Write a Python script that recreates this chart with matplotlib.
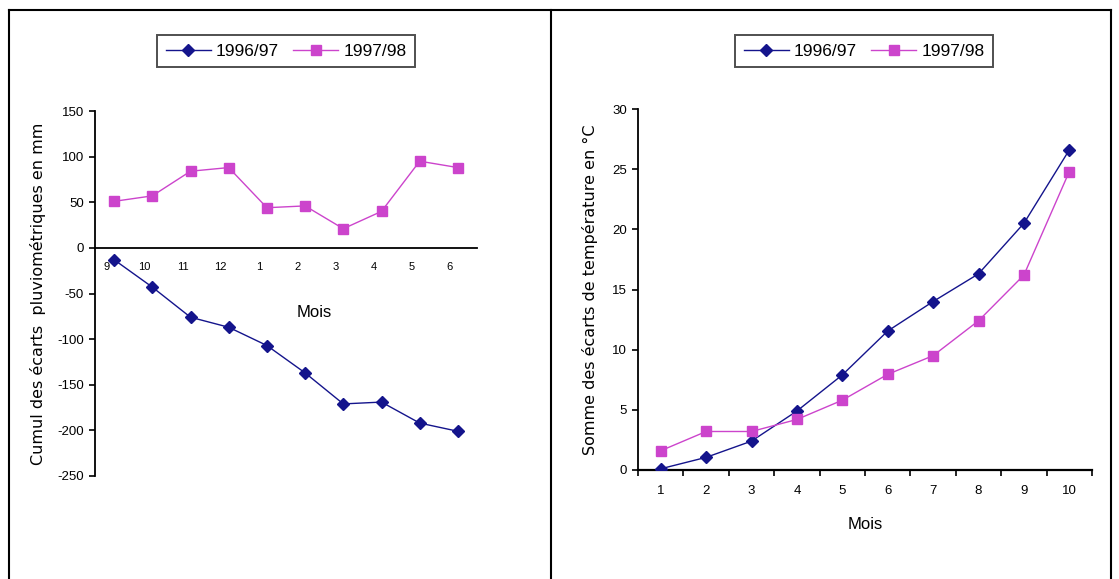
import matplotlib
matplotlib.use("Agg")
import matplotlib.pyplot as plt
import matplotlib.transforms as mtransforms
from matplotlib.lines import Line2D
import numpy as np

plt.rcParams['font.family'] = ['Liberation Sans Narrow', 'Liberation Sans', 'DejaVu Sans']
plt.rcParams['axes.unicode_minus'] = False

# left chart: cumul des ecarts pluviometriques (mm)
mois_pluie = ["9", "10", "11", "12", "1", "2", "3", "4", "5", "6"]
pluie_9697 = [-13, -43, -76, -87, -107, -137, -171, -169, -192, -201]
pluie_9798 = [51, 57, 84, 88, 44, 46, 21, 40, 95, 88]

# right chart: somme des ecarts de temperature (degC)
mois_temp = ["1", "2", "3", "4", "5", "6", "7", "8", "9", "10"]
temp_9697 = [0.1, 1.05, 2.4, 4.9, 7.9, 11.55, 14.0, 16.3, 20.5, 26.6]
temp_9798 = [1.6, 3.2, 3.2, 4.2, 5.8, 7.95, 9.5, 12.4, 16.2, 24.8]

series_names = ["1996/97", "1997/98"]
blue = "#14148c"
pink = "#cc44cc"

W, H = 1119, 579
fig = plt.figure(figsize=(W / 100, H / 100), dpi=100)

def ax_px(x0, y0, x1, y1):
    # pixel box (top-left origin) -> figure axes
    return fig.add_axes([x0 / W, 1 - y1 / H, (x1 - x0) / W, (y1 - y0) / H])

def draw_series(ax, xs, a, b):
    l1, = ax.plot(xs, a, color=blue, lw=1.0, marker="D", ms=6, mfc=blue, mec=blue, zorder=3)
    l2, = ax.plot(xs, b, color=pink, lw=1.0, marker="s", ms=6.5, mfc=pink, mec=pink, zorder=3)
    return l1, l2

ylab_font = dict(fontsize=11.5, family='DejaVu Sans')

# ---------------- left
ax1 = ax_px(95, 111, 477, 476)
xs = np.arange(1, len(mois_pluie) + 1)
h1 = draw_series(ax1, xs, pluie_9697, pluie_9798)
ax1.set_xlim(0.5, len(mois_pluie) + 0.5)
ax1.set_ylim(-250, 150)
ax1.set_yticks(np.arange(-250, 151, 50))
ax1.spines['top'].set_visible(False)
ax1.spines['right'].set_visible(False)
ax1.spines['bottom'].set_position(('data', 0))
ax1.spines['left'].set_linewidth(1.3)
ax1.spines['bottom'].set_linewidth(1.3)
ax1.set_xticks(xs)
ax1.set_xticklabels(mois_pluie)
ax1.tick_params(axis='x', length=0, labelsize=8, pad=10)
ax1.tick_params(axis='y', direction='out', length=4, width=1.2, labelsize=9.5, pad=4)
# month labels sit a bit left of the points in the original
shift = mtransforms.ScaledTranslation(-8 / 100, 0, fig.dpi_scale_trans)
for lab in ax1.get_xticklabels():
    lab.set_transform(lab.get_transform() + shift)
ax1.set_ylabel("Cumul des écarts  pluviométriques en mm", labelpad=8, **ylab_font)
ax1.text(0.575, 0.449, "Mois", transform=ax1.transAxes, fontsize=12, ha='center', va='center')
leg1 = fig.legend(h1, series_names, loc='center', bbox_to_anchor=(286 / W, 1 - 51 / H),
                  ncol=2, fontsize=12.5, frameon=True, fancybox=False, edgecolor='#222222',
                  handlelength=2.6, handletextpad=0.3, columnspacing=0.8, borderpad=0.5)
leg1.get_frame().set_linewidth(1.4)

# ---------------- right
ax2 = ax_px(638, 109, 1092, 470)
xs2 = np.arange(1, len(mois_temp) + 1)
h2 = draw_series(ax2, xs2, temp_9697, temp_9798)
ax2.set_xlim(0.5, len(mois_temp) + 0.5)
ax2.set_ylim(0, 30)
ax2.set_yticks(np.arange(0, 31, 5))
ax2.spines['top'].set_visible(False)
ax2.spines['right'].set_visible(False)
ax2.spines['left'].set_linewidth(1.3)
ax2.spines['bottom'].set_linewidth(1.6)
ax2.set_xticks(xs2)
ax2.set_xticklabels(mois_temp)
ax2.set_xticks(np.arange(0.5, len(mois_temp) + 1), minor=True)
ax2.tick_params(axis='x', which='major', length=0, labelsize=9.5, pad=11)
ax2.tick_params(axis='x', which='minor', direction='out', length=4, width=1.2)
ax2.tick_params(axis='y', direction='out', length=4, width=1.2, labelsize=9.5, pad=4)
ax2.set_ylabel("Somme des écarts de température en °C", labelpad=10, **ylab_font)
ax2.set_xlabel("Mois", fontsize=12, labelpad=14)
leg2 = fig.legend(h2, series_names, loc='center', bbox_to_anchor=(864 / W, 1 - 51 / H),
                  ncol=2, fontsize=12.5, frameon=True, fancybox=False, edgecolor='#222222',
                  handlelength=2.6, handletextpad=0.3, columnspacing=0.8, borderpad=0.5)
leg2.get_frame().set_linewidth(1.4)

# outer frame
def fline(xa, ya, xb, yb, lw=1.5):
    fig.add_artist(Line2D([xa / W, xb / W], [1 - ya / H, 1 - yb / H], color='black', lw=lw))

fline(9, 10, 1111, 10)
fline(9, 10, 9, 579)
fline(551, 10, 551, 579)
fline(1111, 10, 1111, 579)

fig.savefig("out.png", dpi=100)
